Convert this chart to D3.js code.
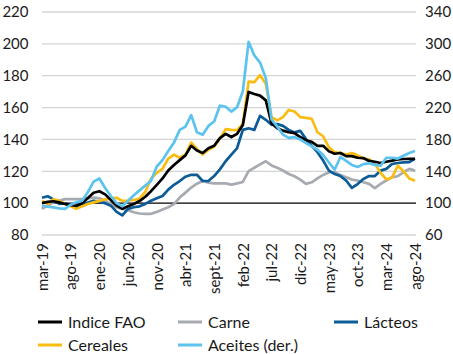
<!DOCTYPE html>
<html><head><meta charset="utf-8">
<script src="https://cdn.jsdelivr.net/npm/d3@7"></script>
<style>
body{margin:0;background:#fff;}
text{font-family:Lato,"Open Sans",sans-serif;fill:#1a1a1a;}
</style></head>
<body>
<svg id="c" width="453" height="354"></svg>
<script>
const months = ["mar-19","abr-19","may-19","jun-19","jul-19","ago-19","sept-19","oct-19","nov-19","dic-19",
"ene-20","feb-20","mar-20","abr-20","may-20","jun-20","jul-20","ago-20","sept-20","oct-20","nov-20","dic-20",
"ene-21","feb-21","mar-21","abr-21","may-21","jun-21","jul-21","ago-21","sept-21","oct-21","nov-21","dic-21",
"ene-22","feb-22","mar-22","abr-22","may-22","jun-22","jul-22","ago-22","sept-22","oct-22","nov-22","dic-22",
"ene-23","feb-23","mar-23","abr-23","may-23","jun-23","jul-23","ago-23","sept-23","oct-23","nov-23","dic-23",
"ene-24","feb-24","mar-24","abr-24","may-24","jun-24","jul-24","ago-24"];
const tickLabels = ["mar-19","ago-19","ene-20","jun-20","nov-20","abr-21","sept-21","feb-22","jul-22","dic-22","may-23","oct-23","mar-24","ago-24"];
const leftTicks = [80,100,120,140,160,180,200,220];
const rightTicks = [60,100,140,180,220,260,300,340];

const indiceFAO = [100,100.8,101.2,100.5,99.5,98.8,98.5,100,103.2,106.5,
107.5,105.5,102,98.5,96.5,98,99.5,101.3,104,107.5,111.5,115.5,
120.5,124,127,130,136,133,131.5,134.5,136,140.8,143.5,141.5,
143.5,149,169.8,168.5,167.5,164.5,150,147,145.5,144.5,144,141.5,
139.5,138.5,136,136,132.5,131,131.5,129.5,129.5,128.5,128.3,126.5,
126,125.2,126,126.7,127.5,127.7,127.8,127.8];
const carne = [96.5,98.5,100.5,101.5,102.5,102.5,102.5,102.5,103,103.5,
103,101.5,99.5,97.4,96.4,95.5,94.3,93.5,93.3,93.3,94.5,96,
97.4,99.4,103.5,106.6,109.8,112.2,113.9,112.9,112.4,112.4,112.4,111.6,
112.4,113.3,120.1,122.2,124.3,126.3,123.7,122.2,120.5,118.3,116.9,114.8,
112.1,113.1,115.6,117.7,119.4,119.4,117.7,116.3,114.8,114.2,113.1,112.1,
109.4,112.1,114.2,116.3,116.9,119.4,121.5,120.4];
const lacteos = [103.4,104.3,102.4,99.5,99.8,99,97.6,98.8,100.4,101.4,
100.8,100,98.4,94.5,92.3,96.4,97.4,98,99.5,101.5,103,104.5,
108.5,111.5,113.9,116.6,117.8,117.8,113.9,113.9,117,121.2,126.3,130.5,
134.6,146,147,146,154.8,152.3,149.2,149.6,148.5,146,144.4,145.4,
140.2,136,132,126.7,120.4,118.3,117,114.2,109.6,112,115.2,117,
117,120.4,121.5,124.6,125.2,125.6,125.8,128];
const cereales = [101.4,99.4,102.4,101.4,99.5,98,96.4,98,99.5,100.5,
101.4,102.4,103,103.4,101.4,101.5,102,102.8,107,115.5,119,121.5,
128,130.5,128.5,130.5,138,134,130.5,133.5,135.5,140.5,146.5,146,
145.8,149.8,176.3,176,180.3,175,154,152,154,158.5,157.5,154,
153.5,153,144.5,142,135,132,131.5,130.5,131.5,130,128,127.5,
125,119,115,116,123.5,120,115.5,114];
const aceites = [97,95.5,94.7,93.5,92.7,98,101,103,114,127,
131,119,109,100,96,103,110,116,122,128,146,154,
165.5,176,192,196,210.5,189,186,197,202.5,222.5,221,215,
220.5,240.5,302.5,285.5,276.5,257,205,196,186,182,183,180,
175.4,171.3,167,160.4,151,142,158,153,148,145.4,149,150,
148,147,157,157,156,159.6,163,165.4];

const svg = d3.select("#c");
const x = d3.scaleLinear().domain([0, months.length-1]).range([42, 415]);
const yL = d3.scaleLinear().domain([80,220]).range([235,12]);
const yR = d3.scaleLinear().domain([60,340]).range([235,12]);

// gridlines
svg.append("g").selectAll("line").data(leftTicks).join("line")
  .attr("x1",42).attr("x2",416)
  .attr("y1",d=>yL(d)).attr("y2",d=>yL(d))
  .attr("stroke",d=>d===100?"#000":"#d4d4d4")
  .attr("stroke-width",d=>d===100?1.2:1.3);

const fs = "15px";
// left axis
const gl = svg.append("g").attr("transform","translate(28.5,0)")
  .call(d3.axisLeft(yL).tickValues(leftTicks).tickSize(0).tickPadding(0));
gl.select(".domain").remove();
gl.selectAll("text").style("font-size",fs).style("font-family","Lato").attr("fill","#1a1a1a");

// right axis
const gr = svg.append("g").attr("transform","translate(425,0)")
  .call(d3.axisRight(yR).tickValues(rightTicks).tickSize(0).tickPadding(0));
gr.select(".domain").remove();
gr.selectAll("text").style("font-size",fs).style("font-family","Lato").attr("fill","#1a1a1a");

// bottom axis
const tickIdx = tickLabels.map(t=>months.indexOf(t));
const gb = svg.append("g").attr("transform","translate(0,243)")
  .call(d3.axisBottom(x).tickValues(tickIdx).tickSize(0).tickFormat(i=>months[i]));
gb.select(".domain").remove();
gb.selectAll("text")
  .style("font-size",fs).style("font-family","Lato").attr("fill","#1a1a1a")
  .attr("text-anchor","end")
  .attr("transform","rotate(-90)")
  .attr("x",0).attr("y",0).attr("dx",0).attr("dy","0.35em");

const series = [
  {name:"Indice FAO", data:indiceFAO, color:"#000000", y:yL},
  {name:"Carne", data:carne, color:"#a7abb1", y:yL},
  {name:"Lácteos", data:lacteos, color:"#0b5c97", y:yL},
  {name:"Cereales", data:cereales, color:"#fbbc12", y:yL},
  {name:"Aceites (der.)", data:aceites, color:"#5bc3ee", y:yR}
];
const drawOrder = [1,2,3,0,4];
drawOrder.forEach(k=>{
  const s = series[k];
  const line = d3.line().x((d,i)=>x(i)).y(d=>s.y(d));
  svg.append("path").datum(s.data).attr("d",line)
    .attr("fill","none").attr("stroke",s.color).attr("stroke-width",2.7)
    .attr("stroke-linejoin","round");
});

// legend
const legPos = [[38,322],[178,322],[334,322],[38,345],[178,345]];
series.forEach((s,k)=>{
  const [lx,ly] = legPos[k];
  svg.append("line").attr("x1",lx).attr("x2",lx+24).attr("y1",ly).attr("y2",ly)
    .attr("stroke",s.color).attr("stroke-width",3);
  svg.append("text").attr("x",lx+30).attr("y",ly).attr("dy","0.36em")
    .style("font-size","16px").text(s.name);
});
</script>
</body></html>
